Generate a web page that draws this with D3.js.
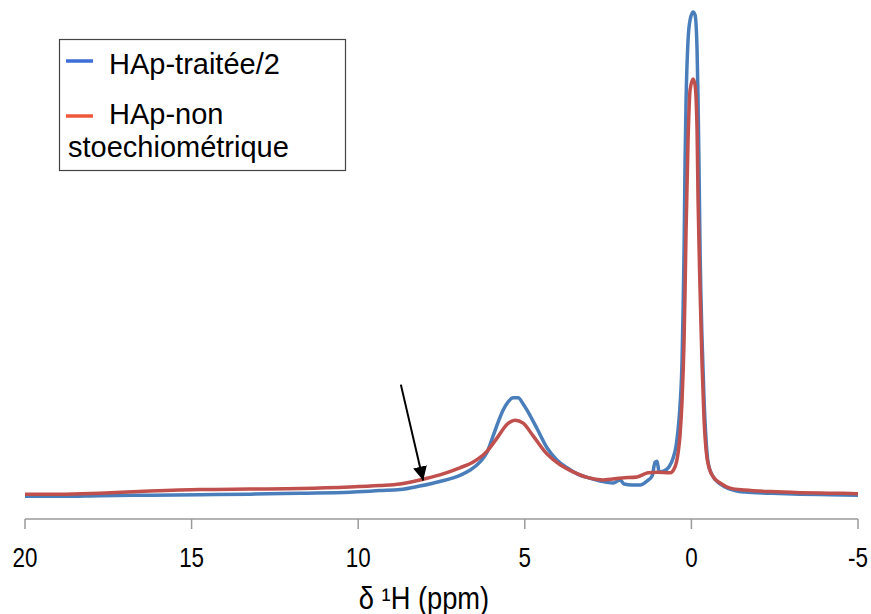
<!DOCTYPE html>
<html><head><meta charset="utf-8">
<script src="https://cdn.jsdelivr.net/npm/d3@7"></script>
<style>body{margin:0;background:#fff}svg{display:block}</style>
</head><body>
<svg id="c" width="871" height="614"></svg>
<script>
// chemical shift (ppm) and intensity (arbitrary units, blue max = 100)
const bluePpm = [20,18.95,17.75,16.25,14.75,13.25,11.75,10.25,9.35,8.75,8.15,7.55,6.95,6.65,6.35,6.13,5.95,5.80,5.65,5.50,5.35,5.20,5.05,4.90,4.63,4.33,4.03,3.73,3.43,3.13,2.74,2.35,2.14,2.02,1.78,1.54,1.33,1.18,1.09,1.03,0.97,0.82,0.67,0.55,0.46,0.40,0.34,0.28,0.25,0.22,0.19,0.16,0.10,0.04,-0.05,-0.11,-0.17,-0.20,-0.23,-0.26,-0.32,-0.38,-0.44,-0.50,-0.62,-0.86,-1.16,-1.61,-2.36,-3.26,-4.16,-5.0];
const blueVal = [4.5,4.5,4.6,4.7,4.8,4.9,5.1,5.3,5.6,5.8,6.5,7.4,8.6,9.6,11.2,13.2,16.4,19.1,21.5,23.1,23.9,23.9,22.7,21.1,17.8,14.0,11.6,10.1,8.9,8.2,7.5,7.1,7.7,6.9,6.7,6.7,7.5,8.5,11.2,11.4,9.3,9.5,10.3,12.0,14.4,17.6,22.5,31.4,41.2,53.1,70.8,82.6,94.5,98.4,100,99.4,92.5,82.6,68.8,53.1,35.3,23.5,15.6,11.2,8.7,6.9,5.9,5.3,5.1,4.9,4.8,4.7];
const redPpm = [20,18.95,17.75,16.25,14.75,13.25,11.75,10.25,9.35,8.75,8.15,7.55,6.95,6.56,6.13,5.83,5.53,5.29,5.05,4.75,4.33,3.94,3.55,3.13,2.65,2.08,1.63,1.30,1.03,0.64,0.49,0.40,0.34,0.28,0.22,0.19,0.16,0.10,0.04,-0.05,-0.11,-0.17,-0.20,-0.26,-0.32,-0.38,-0.44,-0.53,-0.68,-0.86,-1.16,-1.61,-2.36,-3.26,-4.16,-5.0];
const redVal = [4.9,4.9,5.1,5.5,5.8,5.9,6.0,6.3,6.6,6.9,7.7,8.7,10.1,11.2,13.4,16.0,18.7,19.5,18.9,16.4,12.8,10.7,9.3,8.2,7.7,8.1,8.3,9.1,9.2,9.1,10.3,13.0,16.6,23.5,35.3,45.2,57.0,74.8,84.6,86.8,85.6,76.7,62.9,45.2,30.4,19.5,13.6,10.1,8.1,7.1,6.1,5.7,5.4,5.2,5.1,5.0];
const xTicks = [20,15,10,5,0,-5];
const seriesNames = ["HAp-traitée/2","HAp-non","stoechiométrique"];
const xTitle = "δ ¹H (ppm)";
const arrowFrom = [8.72, 26.5];
const arrowTo = [8.05, 7.6];

const svg = d3.select("#c");
const x = d3.scaleLinear().domain([20,-5]).range([25,858]);
const y = d3.scaleLinear().domain([0,100]).range([519,12]);

// axis
const ax = svg.append("g").attr("transform","translate(0,519)");
ax.append("line").attr("x1",x(20)).attr("x2",x(-5)).attr("stroke","#9a9a9a").attr("stroke-width",1.5);
ax.selectAll("line.t").data(xTicks).join("line").attr("class","t")
  .attr("x1",d=>x(d)).attr("x2",d=>x(d)).attr("y1",0).attr("y2",10)
  .attr("stroke","#9a9a9a").attr("stroke-width",1.5);
ax.selectAll("text").data(xTicks).join("text")
  .attr("transform",d=>`translate(${x(d)},48) scale(0.8,1)`).attr("text-anchor","middle")
  .attr("font-family","Liberation Sans, Arial, sans-serif").attr("font-size",28)
  .attr("fill","#000").text(d=>d);
svg.append("text").attr("transform","translate(424,609) scale(0.88,1)").attr("text-anchor","middle")
  .attr("font-family","Liberation Sans, Arial, sans-serif").attr("font-size",31)
  .text(xTitle);

const line = d3.line().x(d=>x(d[0])).y(d=>y(d[1])).curve(d3.curveMonotoneX);
const blue = bluePpm.map((p,i)=>[p,blueVal[i]]).reverse();
const red = redPpm.map((p,i)=>[p,redVal[i]]).reverse();
svg.append("path").attr("d",line(blue)).attr("fill","none").attr("stroke","#4a7ebb").attr("stroke-width",3.5).attr("stroke-linejoin","round");
svg.append("path").attr("d",line(red)).attr("fill","none").attr("stroke","#c0504d").attr("stroke-width",3.5).attr("stroke-linejoin","round");

// arrow
const defs = svg.append("defs");
defs.append("marker").attr("id","ah").attr("viewBox","0 0 10 10").attr("refX",10).attr("refY",5)
  .attr("markerWidth",7).attr("markerHeight",7).attr("markerUnits","strokeWidth").attr("orient","auto")
  .append("path").attr("d","M0,0 L10,5 L0,10 Z").attr("fill","#000");
svg.append("line").attr("x1",x(arrowFrom[0])).attr("y1",y(arrowFrom[1]))
  .attr("x2",x(arrowTo[0])).attr("y2",y(arrowTo[1])).attr("stroke","#000").attr("stroke-width",2)
  .attr("marker-end","url(#ah)");

// legend
const lg = svg.append("g");
lg.append("rect").attr("x",59.5).attr("y",39.5).attr("width",286).attr("height",131)
  .attr("fill","#fff").attr("stroke","#444").attr("stroke-width",1.2);
lg.append("line").attr("x1",66).attr("x2",93).attr("y1",61).attr("y2",61).attr("stroke","#3e6fd6").attr("stroke-width",3.5);
lg.append("line").attr("x1",66).attr("x2",93).attr("y1",116).attr("y2",116).attr("stroke","#ee593c").attr("stroke-width",3.5);
const ff = "Liberation Sans, Arial, sans-serif";
lg.append("text").attr("x",109).attr("y",74).attr("font-family",ff).attr("font-size",29).text(seriesNames[0]);
lg.append("text").attr("x",109).attr("y",124).attr("font-family",ff).attr("font-size",29).text(seriesNames[1]);
lg.append("text").attr("x",68).attr("y",157).attr("font-family",ff).attr("font-size",29).text(seriesNames[2]);
</script>
</body></html>
